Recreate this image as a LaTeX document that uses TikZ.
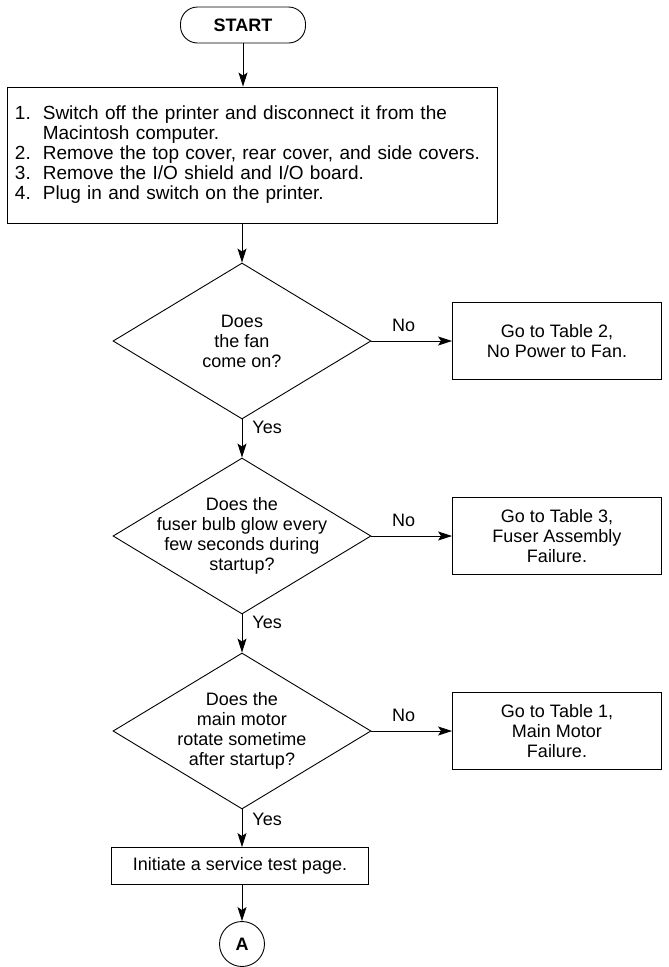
\documentclass[tikz,border=0pt]{standalone}
\usepackage{fontspec}
\setmainfont{Liberation Sans}
\usepackage{tikz}
\usetikzlibrary{arrows.meta,positioning,shapes.geometric}

\begin{document}
\begin{tikzpicture}[x=1pt,y=-1pt,line width=0.9pt,
  every node/.style={font=\fontsize{18}{20}\selectfont},
  flow/.style={-{Stealth[length=14pt,width=9pt,inset=3pt]}},
  startbox/.style={draw,rounded corners=17pt,minimum width=125pt,minimum height=36pt,font=\fontsize{18}{20}\selectfont\bfseries},
  stepbox/.style={draw,align=center,inner sep=0pt},
  query/.style={draw,diamond,aspect=1.654,minimum width=258pt,minimum height=156pt,inner sep=-12pt,align=center},
  gotobox/.style={draw,align=center,minimum width=209pt,minimum height=77pt,inner sep=0pt},
  tag/.style={inner sep=1pt}]
\useasboundingbox (0,0) rectangle (669,967);

\node[startbox] (start) at (243,25) {START};
\node[draw,text width=474pt,inner xsep=8pt,minimum height=136pt,align=left,font=\fontsize{19}{20}\selectfont] (prep) at (252,155) {%
  \begin{tabular}{@{}l@{\hspace{12pt}}l@{}}
  1. & Switch off the printer and disconnect it from the\\
     & Macintosh computer.\\
  2. & Remove the top cover, rear cover, and side covers.\\
  3. & Remove the I/O shield and I/O board.\\
  4. & Plug in and switch on the printer.
  \end{tabular}};

\node[query] (fan) at (242,341) {Does\\the fan\\come on?};
\node[query] (fuser) at (242,536) {Does the\\fuser bulb glow every\\few seconds during\\startup?};
\node[query] (motor) at (242,731) {Does the\\main motor\\rotate sometime\\after startup?};

\node[gotobox] (tab2) at (557,341) {Go to Table 2,\\No Power to Fan.};
\node[gotobox] (tab3) at (557,536) {Go to Table 3,\\Fuser Assembly\\Failure.};
\node[gotobox] (tab1) at (557,731) {Go to Table 1,\\Main Motor\\Failure.};

\node[stepbox,minimum width=257pt,minimum height=37pt] (testpage) at (240,866) {Initiate a service test page.};
\node[draw,circle,minimum size=45pt,inner sep=0pt,font=\fontsize{18}{20}\selectfont\bfseries] (conA) at (242,944) {A};

% main line
\draw[flow] (start) -- (start |- prep.north);
\draw[flow] (fan |- prep.south) -- (fan);
\draw[flow] (fan) -- node[tag,right=9pt,pos=0.22] {Yes} (fuser);
\draw[flow] (fuser) -- node[tag,right=9pt,pos=0.22] {Yes} (motor);
\draw[flow] (motor) -- node[tag,right=9pt,pos=0.26] {Yes} (motor |- testpage.north);
\draw[flow] (conA |- testpage.south) -- (conA);

% no branches
\draw[flow] (fan) -- node[tag,above=8pt,pos=0.4] {No} (tab2);
\draw[flow] (fuser) -- node[tag,above=8pt,pos=0.4] {No} (tab3);
\draw[flow] (motor) -- node[tag,above=8pt,pos=0.4] {No} (tab1);
\end{tikzpicture}
\end{document}
